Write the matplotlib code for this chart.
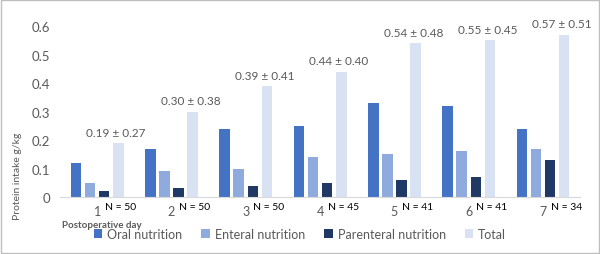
import matplotlib.pyplot as plt
import numpy as np
from matplotlib.patches import Rectangle

plt.rcParams['font.family'] = ['Lato', 'DejaVu Sans']

days = ['1', '2', '3', '4', '5', '6', '7']
oral = [0.12, 0.17, 0.24, 0.25, 0.33, 0.32, 0.24]
enteral = [0.05, 0.09, 0.10, 0.14, 0.15, 0.16, 0.17]
parenteral = [0.02, 0.03, 0.04, 0.05, 0.06, 0.07, 0.13]
total = [0.19, 0.30, 0.39, 0.44, 0.54, 0.55, 0.57]
total_labels = ['0.19 ± 0.27', '0.30 ± 0.38', '0.39 ± 0.41', '0.44 ± 0.40',
                '0.54 ± 0.48', '0.55 ± 0.45', '0.57 ± 0.51']
n_labels = ['N = 50', 'N = 50', 'N = 50', 'N = 45', 'N = 41', 'N = 41', 'N = 34']

series = [('Oral nutrition', oral, '#4472C4'),
          ('Enteral nutrition', enteral, '#8FAADC'),
          ('Parenteral nutrition', parenteral, '#203864'),
          ('Total', total, '#D9E2F3')]

txt = '#595959'
fig = plt.figure(figsize=(6, 2.55), dpi=100)
ax = fig.add_axes([0.1, 0.2235, 0.867, 0.6705])

x = np.arange(len(days))
w = 0.142
step = 0.19
for i, (name, vals, col) in enumerate(series):
    ax.bar(x + (i - 1.5) * step, vals, width=w, color=col, label=name)

for xi, t, lab in zip(x, total, total_labels):
    ax.text(xi + 1.5 * step - 0.03, t + 0.018, lab, ha='center', va='bottom',
            fontsize=8.5, color=txt)

ax.set_xlim(-0.5, len(days) - 0.5)
ax.set_ylim(0, 0.6)
ax.set_yticks([0, 0.1, 0.2, 0.3, 0.4, 0.5, 0.6])
ax.set_yticklabels(['0', '0.1', '0.2', '0.3', '0.4', '0.5', '0.6'])
ax.tick_params(axis='y', length=0, labelsize=9.5, labelcolor=txt, pad=7)
ax.set_xticks([])
for s in ['top', 'right', 'left']:
    ax.spines[s].set_visible(False)
ax.spines['bottom'].set_color('#D9D9D9')

tr = ax.get_xaxis_transform()
for xi, d, n in zip(x, days, n_labels):
    ax.text(xi, -0.08, d, transform=tr, ha='center', va='center', fontsize=9, color=txt)
    ax.text(xi + 0.31, -0.055, n, transform=tr, ha='center', va='center', fontsize=7.5,
            color='black')

fig.text(0.17, 0.117, 'Postoperative day', ha='center', va='center', fontsize=7,
         fontweight='bold', color=txt)
fig.text(0.029, 0.31, 'Protein intake g/kg', ha='center', va='center', rotation=90,
         fontsize=7.5, color=txt)

fig.legend(loc='center', bbox_to_anchor=(0.5, 0.078), ncol=4, frameon=False,
           fontsize=9, labelcolor=txt, handlelength=0.7, handleheight=0.7,
           handletextpad=0.4, columnspacing=1.5)

fig.patches.append(Rectangle((0.002, 0.004), 0.996, 0.992, transform=fig.transFigure,
                             fill=False, edgecolor='#BFBFBF', linewidth=1))

fig.savefig('out.png', dpi=100)
